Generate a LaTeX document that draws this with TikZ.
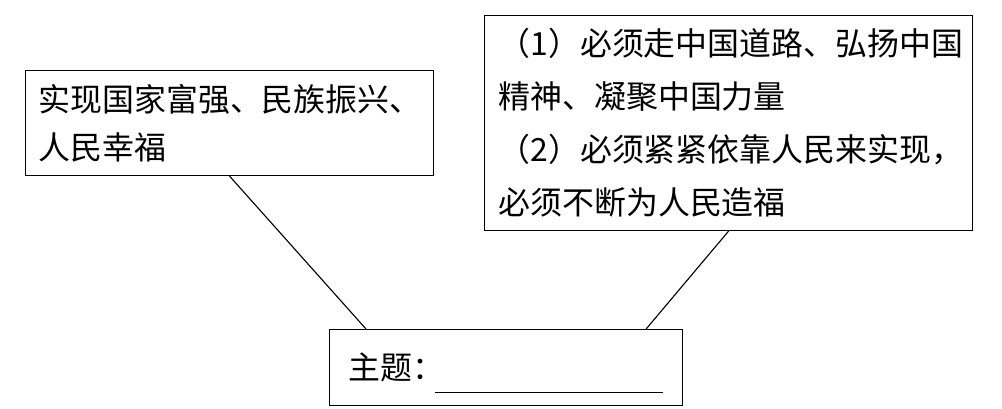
\documentclass[tikz,border=0pt]{standalone}
\usepackage{fontspec}
\setmainfont{Noto Sans CJK SC}
\usetikzlibrary{calc}

\begin{document}
\begin{tikzpicture}[box/.style={draw,line width=0.8pt,align=left,anchor=north west,inner ysep=0pt}]
  \useasboundingbox (0,0) rectangle (25.05,-10.225);
  %
  \node[box,minimum width=10.2cm,minimum height=2.625cm,inner xsep=0.325cm,text width=9.55cm,
        font=\fontsize{22.7}{34.1}\selectfont] (goal) at (0.625,-1.75)
    {实现国家富强、民族振兴、\\人民幸福};
  %
  \node[box,minimum width=12.2cm,minimum height=5.375cm,inner xsep=0.35cm,text width=11.5cm,
        font=\fontsize{22.7}{37.7}\selectfont] (path) at (12.1,-0.375)
    {（1）必须走中国道路、弘扬中国\\精神、凝聚中国力量\\（2）必须紧紧依靠人民来实现，\\必须不断为人民造福};
  %
  \node[box,minimum width=8.825cm,minimum height=1.9cm,inner xsep=0.475cm,text width=7.875cm,
        font=\fontsize{22.7}{34.1}\selectfont] (theme) at (8.225,-8.225)
    {主题：\kern-0.225cm\smash{\rule[-0.4em]{5.7cm}{0.6pt}}};
  %
  \draw[line width=0.8pt] (goal.south) -- ($(theme.north west)+(0.925,0)$);
  \draw[line width=0.8pt] (path.south) -- ($(theme.north east)+(-0.925,0)$);
  %
\end{tikzpicture}
\end{document}
